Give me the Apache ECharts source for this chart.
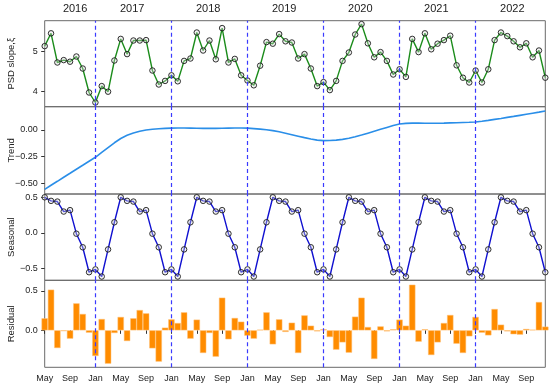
<!DOCTYPE html>
<html><head><meta charset="utf-8">
<script src="https://cdn.jsdelivr.net/npm/echarts@6/dist/echarts.min.js"></script>
<style>html,body{margin:0;padding:0;background:#fff}#c{width:550px;height:387px}</style>
</head><body><div id="c"></div>
<script>
const months = ['May','Jun','Jul','Aug','Sep','Oct','Nov','Dec',
'Jan','Feb','Mar','Apr','May','Jun','Jul','Aug','Sep','Oct','Nov','Dec',
'Jan','Feb','Mar','Apr','May','Jun','Jul','Aug','Sep','Oct','Nov','Dec',
'Jan','Feb','Mar','Apr','May','Jun','Jul','Aug','Sep','Oct','Nov','Dec',
'Jan','Feb','Mar','Apr','May','Jun','Jul','Aug','Sep','Oct','Nov','Dec',
'Jan','Feb','Mar','Apr','May','Jun','Jul','Aug','Sep','Oct','Nov','Dec',
'Jan','Feb','Mar','Apr','May','Jun','Jul','Aug','Sep','Oct','Nov','Dec'];
const yearLabels = ['2016','2017','2018','2019','2020','2021','2022'];
const yearPos = [4.8,13.8,25.8,37.8,49.8,61.8,73.8];
const psd = [5.14,5.46,4.73,4.79,4.75,4.88,4.58,3.98,3.73,4.14,
4.00,4.78,5.32,4.94,5.28,5.28,5.29,4.53,4.18,4.27,
4.41,4.26,4.77,4.83,5.48,5.03,5.28,4.81,5.59,4.73,
4.82,4.41,4.28,4.16,4.65,5.24,5.20,5.44,5.26,5.23,
4.83,4.94,4.58,4.14,4.24,4.04,4.27,4.77,4.98,5.43,
5.69,5.21,4.86,4.99,4.77,4.43,4.56,4.37,5.32,4.99,
5.46,5.06,5.20,5.29,5.40,4.66,4.35,4.23,4.53,4.23,
4.56,5.29,5.48,5.39,5.26,5.11,5.21,4.86,5.03,4.35];
const trend = [-0.556,-0.518,-0.481,-0.443,-0.406,-0.368,-0.331,-0.293,-0.256,-0.210,
-0.165,-0.120,-0.080,-0.050,-0.028,-0.012,-0.001,0.007,0.012,0.015,
0.017,0.018,0.018,0.017,0.016,0.015,0.015,0.015,0.016,0.017,
0.018,0.018,0.017,0.013,0.008,0.002,-0.006,-0.017,-0.030,-0.044,
-0.058,-0.072,-0.085,-0.095,-0.100,-0.099,-0.095,-0.088,-0.078,-0.064,
-0.048,-0.030,-0.012,0.006,0.024,0.042,0.056,0.062,0.064,0.064,
0.063,0.063,0.063,0.064,0.066,0.068,0.070,0.072,0.075,0.082,
0.090,0.099,0.108,0.118,0.127,0.137,0.147,0.157,0.167,0.178];
const seasonal = [0.50,0.45,0.44,0.30,0.32,-0.01,-0.20,-0.55,
-0.51,-0.61,-0.23,0.15,0.50,0.45,0.44,0.30,0.32,-0.01,-0.20,-0.55,
-0.51,-0.61,-0.23,0.15,0.50,0.45,0.44,0.30,0.32,-0.01,-0.20,-0.55,
-0.51,-0.61,-0.23,0.15,0.50,0.45,0.44,0.30,0.32,-0.01,-0.20,-0.55,
-0.51,-0.61,-0.23,0.15,0.50,0.45,0.44,0.30,0.32,-0.01,-0.20,-0.55,
-0.51,-0.61,-0.23,0.15,0.50,0.45,0.44,0.30,0.32,-0.01,-0.20,-0.55,
-0.51,-0.61,-0.23,0.15,0.50,0.45,0.44,0.30,0.32,-0.01,-0.20,-0.55];
const residual = [0.153,0.517,-0.225,-0.010,-0.106,0.343,0.208,-0.030,-0.326,0.144,
-0.424,-0.034,0.170,-0.136,0.153,0.258,0.216,-0.229,-0.398,0.034,
0.140,0.093,0.229,-0.106,0.136,-0.288,-0.034,-0.335,0.415,-0.114,
0.157,0.110,-0.068,-0.106,0.008,0.229,-0.178,0.140,-0.020,0.097,
-0.288,0.190,0.059,-0.013,0.013,-0.085,-0.246,-0.153,-0.284,0.174,
0.415,0.042,-0.364,0.050,-0.013,0.013,0.136,0.059,0.580,-0.144,
0.013,-0.314,-0.153,0.093,0.195,-0.170,-0.288,-0.076,0.170,-0.030,
-0.064,0.271,0.072,-0.013,-0.050,-0.055,0.017,0.008,0.360,0.047];
const panelNames = ['PSD slope,\u03be','Trend','Seasonal','Residual'];
const yTicks = [[4,5],[-0.5,-0.25,0],[-0.5,0,0.5],[0,0.5]];
const yRanges = [[3.625,5.775],[-0.6,0.218],[-0.663,0.546],[-0.47,0.636]];
const yDecimals = [0,2,1,1];

const N = months.length;
const janIdx = [], xTickIdx = [];
months.forEach((m,i)=>{ if(m==='Jan') janIdx.push(i); if(m==='May'||m==='Sep'||m==='Jan') xTickIdx.push(i); });

const FONT = 'Liberation Sans';
const TXT = '#222';
const grids = [
  {left:44.7,right:4.7,top:20.7,height:86},
  {left:44.7,right:4.7,top:106.7,height:87.3},
  {left:44.7,right:4.7,top:194,height:86.3},
  {left:44.7,right:4.7,top:280.3,height:87}
].map(g=>Object.assign(g,{show:true,borderColor:'#6a6a6a',borderWidth:1,backgroundColor:'transparent',
  containLabel:false, outerBoundsMode:'none'}));

const xAxes = [0,1,2,3].map(k=>({
  type:'value', gridIndex:k, min:0, max:N-1,
  axisLine:{show:false}, splitLine:{show:false},
  axisTick:{show:k===3, customValues:xTickIdx, length:3.5, lineStyle:{color:'#333'}},
  axisLabel:{show:k===3, customValues:xTickIdx, formatter:v=>months[Math.round(v)],
    fontFamily:FONT, fontSize:9, color:TXT, margin:7}
}));
xAxes.push({type:'value', gridIndex:0, position:'top', min:0, max:N-1,
  axisLine:{show:false}, splitLine:{show:false}, axisTick:{show:false},
  axisLabel:{customValues:yearPos, formatter:v=>{let b=0;yearPos.forEach((p,j)=>{if(Math.abs(p-v)<Math.abs(yearPos[b]-v))b=j;});return yearLabels[b];},
    fontFamily:FONT, fontSize:11, color:TXT, margin:6}});

const yAxes = [0,1,2,3].map(k=>({
  type:'value', gridIndex:k, min:yRanges[k][0], max:yRanges[k][1],
  name:panelNames[k], nameLocation:'middle', nameRotate:90, nameGap:28, nameMoveOverlap:false,
  nameTextStyle:{fontFamily:FONT, fontSize:9.5, color:TXT},
  axisLine:{show:false}, splitLine:{show:false},
  axisTick:{show:true, customValues:yTicks[k], length:3.5, lineStyle:{color:'#333'}},
  axisLabel:{customValues:yTicks[k], fontFamily:FONT, fontSize:9, color:TXT, margin:7,
    formatter:v=>v.toFixed(yDecimals[k]).replace('-','\u2212')}
}));

const mark = {
  symbol:['none','none'], silent:true, animation:false, label:{show:false},
  lineStyle:{color:'#3a3aff', type:[4,3], width:1.2, opacity:1},
  emphasis:{disabled:true},
  data: janIdx.map(v=>({xAxis:v}))
};
const toXY = arr => arr.map((v,i)=>[i,v]);
const markerStyle = {color:'rgba(220,220,220,0.35)', borderColor:'#1a1a1a', borderWidth:0.9};

const option = {
  animation:false,
  grid:grids, xAxis:xAxes, yAxis:yAxes,
  series:[
    {type:'line', xAxisIndex:0, yAxisIndex:0, data:toXY(psd), symbol:'circle', symbolSize:5.5,
     lineStyle:{color:'#1b8c1b', width:1.4}, itemStyle:markerStyle, markLine:mark, z:3},
    {type:'line', xAxisIndex:1, yAxisIndex:1, data:toXY(trend), symbol:'none', smooth:false,
     lineStyle:{color:'#2a8ee8', width:1.6}, markLine:mark},
    {type:'line', xAxisIndex:2, yAxisIndex:2, data:toXY(seasonal), symbol:'circle', symbolSize:5.5,
     lineStyle:{color:'#1010d0', width:1.4}, itemStyle:markerStyle, markLine:mark, z:3},
    {type:'bar', xAxisIndex:3, yAxisIndex:3, data:toXY(residual), barWidth:6.34,
     itemStyle:{color:'#ff8c00', borderColor:'#ffc27a', borderWidth:0.5}, markLine:mark}
  ]
};
const chart = echarts.init(document.getElementById('c'), null, {renderer:'canvas'});
chart.setOption(option);
</script></body></html>
